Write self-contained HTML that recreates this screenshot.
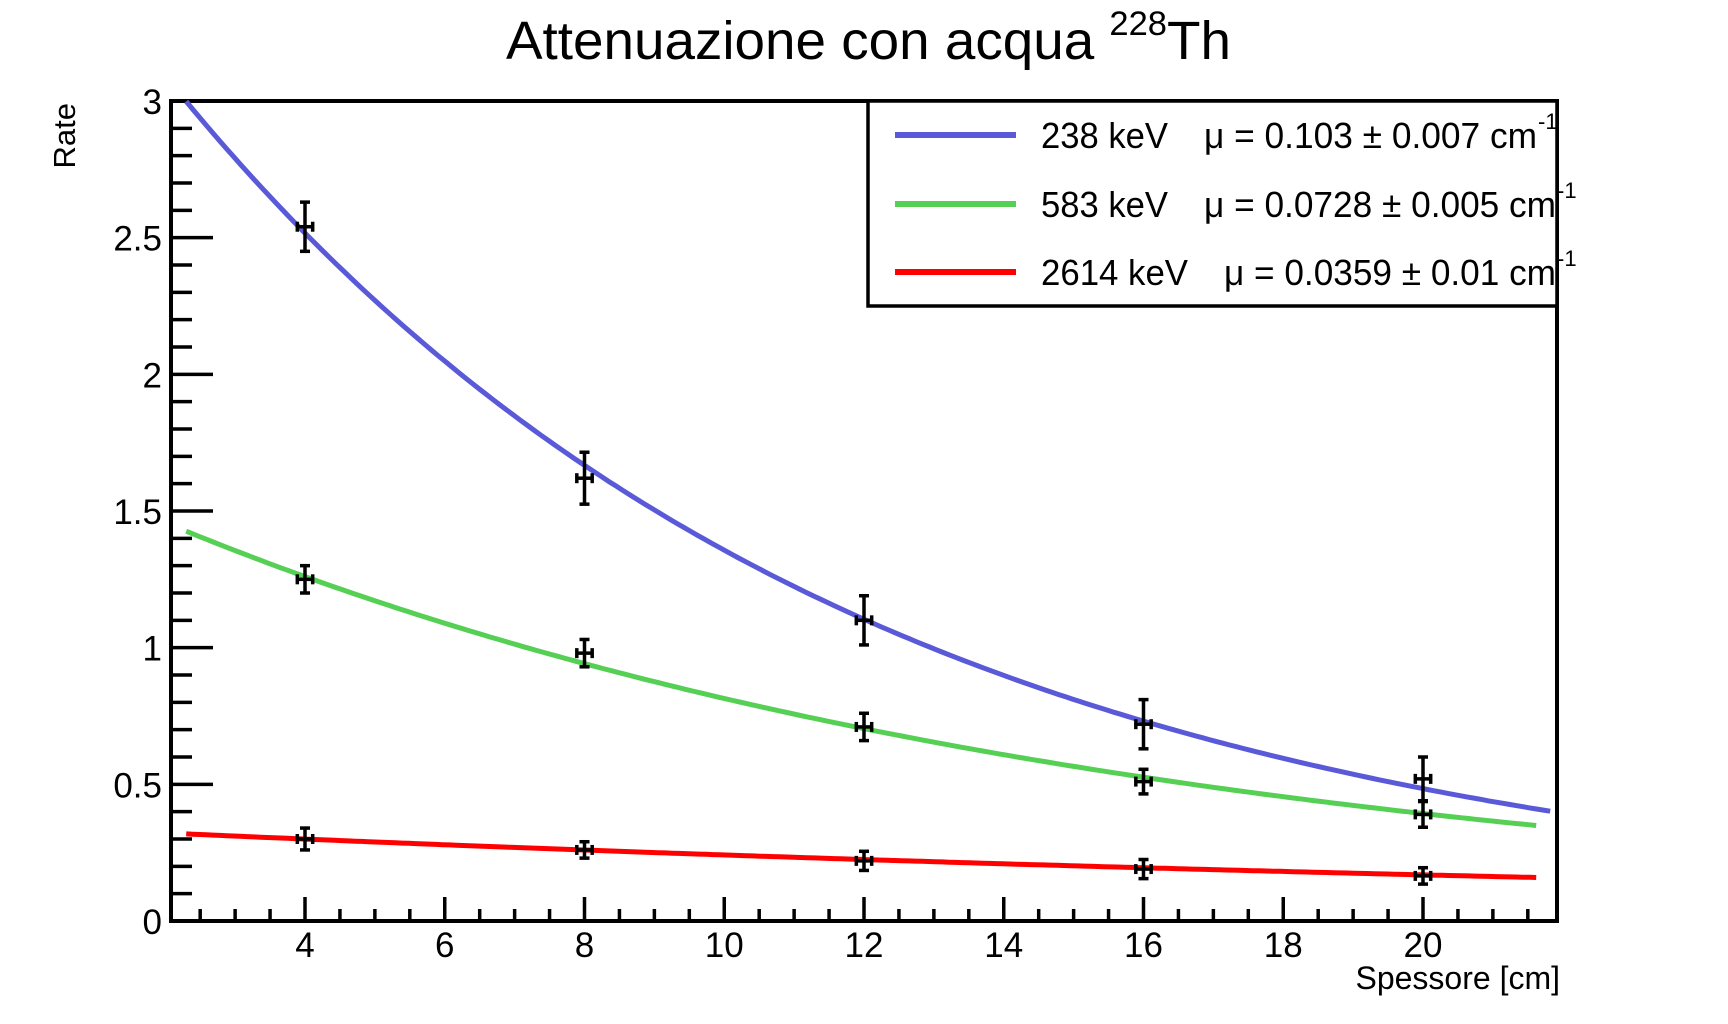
<!DOCTYPE html>
<html><head><meta charset="utf-8"><style>
html,body{margin:0;padding:0;background:#fff;}
svg{display:block;font-family:"Liberation Sans",sans-serif;}
</style></head><body>
<svg id="chart" width="1728" height="1024" viewBox="0 0 1728 1024" xmlns="http://www.w3.org/2000/svg">
<rect width="1728" height="1024" fill="#fff"/>
<text x="506" y="59" font-size="54" textLength="725" lengthAdjust="spacingAndGlyphs">Attenuazione con acqua <tspan font-size="34" dy="-24">228</tspan><tspan dy="24">Th</tspan></text>
<g id="plot"></g>
<text transform="translate(75,103) rotate(-90)" text-anchor="end" font-size="31">Rate</text>
<text x="1560" y="989" text-anchor="end" font-size="32">Spessore [cm]</text>
</svg>
<script>
const xs = [4, 8, 12, 16, 20];
const xErr = [0.11, 0.11, 0.11, 0.11, 0.11];
const blueVals = [2.54, 1.62, 1.10, 0.72, 0.52];
const blueErr = [0.09, 0.095, 0.09, 0.09, 0.08];
const greenVals = [1.25, 0.98, 0.71, 0.51, 0.39];
const greenErr = [0.05, 0.05, 0.05, 0.045, 0.047];
const redVals = [0.30, 0.26, 0.22, 0.19, 0.165];
const redErr = [0.04, 0.03, 0.035, 0.035, 0.03];
const fitAmp = [3.80, 1.686, 0.346];
const fitMu = [0.103, 0.0728, 0.0359];
const fitStart = [2.3, 2.3, 2.3];
const fitEnd = [21.82, 21.62, 21.62];
const seriesColors = ['#5a5ad8', '#55d055', '#ff0000'];
const seriesNames = ['238 keV', '583 keV', '2614 keV'];
const seriesMu = ['\u03bc = 0.103 \u00b1 0.007 cm', '\u03bc = 0.0728 \u00b1 0.005 cm', '\u03bc = 0.0359 \u00b1 0.01 cm'];
const xTickLabels = [4, 6, 8, 10, 12, 14, 16, 18, 20];
const yTickLabels = ['0', '0.5', '1', '1.5', '2', '2.5', '3'];

const NS = 'http://www.w3.org/2000/svg';
const L = 171, R = 1557, T = 101, B = 921;
const X = v => 305 + (v - 4) * 69.875;
const Y = v => B - v * (B - T) / 3;
const plot = document.getElementById('plot');
function mk(tag, attrs, parent) {
  const e = document.createElementNS(NS, tag);
  for (const k in attrs) e.setAttribute(k, attrs[k]);
  (parent || plot).appendChild(e);
  return e;
}
let fr = mk('rect', {x: L, y: T, width: R - L, height: B - T, fill: 'none', stroke: '#000', 'stroke-width': 4});


for (let v = 2.5; v <= 21.9; v += 0.5) {
  const major = Math.abs(v / 2 - Math.round(v / 2)) < 1e-6;
  const t = mk('line', {x1: X(v), x2: X(v), y1: B, y2: B - (major ? 24 : 12), stroke: '#000', 'stroke-width': 3.5});
  
  
}
xTickLabels.forEach(v => {
  const t = mk('text', {x: X(v), y: 957, 'text-anchor': 'middle', 'font-size': 35});
  t.textContent = v;
  
  
});
for (let i = 1; i < 30; i++) {
  const v = i / 10;
  const major = i % 5 === 0;
  const t = mk('line', {x1: L, x2: L + (major ? 42 : 21), y1: Y(v), y2: Y(v), stroke: '#000', 'stroke-width': 3.5});
  
  
}
yTickLabels.forEach(s => {
  const t = mk('text', {x: 162, y: Y(parseFloat(s)) + 13, 'text-anchor': 'end', 'font-size': 35});
  t.textContent = s;
  
  
});
for (let s = 0; s < 3; s++) {
  let d = '';
  const n = 200;
  for (let i = 0; i <= n; i++) {
    const x = fitStart[s] + (fitEnd[s] - fitStart[s]) * i / n;
    let y = fitAmp[s] * Math.exp(-fitMu[s] * x);
    if (y > 3) y = 3;
    d += (i ? 'L' : 'M') + X(x).toFixed(1) + ',' + Y(y).toFixed(1);
  }
  const p = mk('path', {d: d, fill: 'none', stroke: seriesColors[s], 'stroke-width': 5});
  
  
}
const allVals = [blueVals, greenVals, redVals];
const allErr = [blueErr, greenErr, redErr];
for (let s = 0; s < 3; s++) {
  xs.forEach((x, i) => {
    const g = mk('g', {stroke: '#000', 'stroke-width': 3.5, fill: 'none'});
    
    
    const cx = X(x), cy = Y(allVals[s][i]);
    const y1 = Y(allVals[s][i] + allErr[s][i]), y2 = Y(allVals[s][i] - allErr[s][i]);
    const x1 = X(x - xErr[i]), x2 = X(x + xErr[i]);
    mk('line', {x1: cx, x2: cx, y1: y1, y2: y2}, g);
    mk('line', {x1: cx - 5, x2: cx + 5, y1: y1, y2: y1}, g);
    mk('line', {x1: cx - 5, x2: cx + 5, y1: y2, y2: y2}, g);
    mk('line', {x1: x1, x2: x2, y1: cy, y2: cy}, g);
    mk('line', {x1: x1, x2: x1, y1: cy - 5, y2: cy + 5}, g);
    mk('line', {x1: x2, x2: x2, y1: cy - 5, y2: cy + 5}, g);
  });
}
const lg = mk('g', {});


mk('rect', {x: 868, y: T, width: R - 868, height: 205, fill: '#fff', stroke: '#000', 'stroke-width': 3.5}, lg);
const rowY = [135, 204, 272];
const muX = [1204, 1204, 1224];
const nameW = [127, 127, 147];
const muW = [333, 352, 332];
for (let s = 0; s < 3; s++) {
  const e = mk('g', {}, lg);
  
  
  mk('line', {x1: 895, x2: 1016, y1: rowY[s], y2: rowY[s], stroke: seriesColors[s], 'stroke-width': 6}, e);
  const t1 = mk('text', {x: 1041, y: rowY[s] + 13, 'font-size': 36, textLength: nameW[s], lengthAdjust: 'spacingAndGlyphs'}, e);
  t1.textContent = seriesNames[s];
  const t2 = mk('text', {x: muX[s], y: rowY[s] + 13, 'font-size': 36, textLength: muW[s], lengthAdjust: 'spacingAndGlyphs'}, e);
  t2.textContent = seriesMu[s];
  const t3 = mk('text', {x: muX[s] + muW[s] + 1, y: rowY[s] - 6, 'font-size': 22}, e);
  t3.textContent = '-1';
}
</script>
</body></html>
